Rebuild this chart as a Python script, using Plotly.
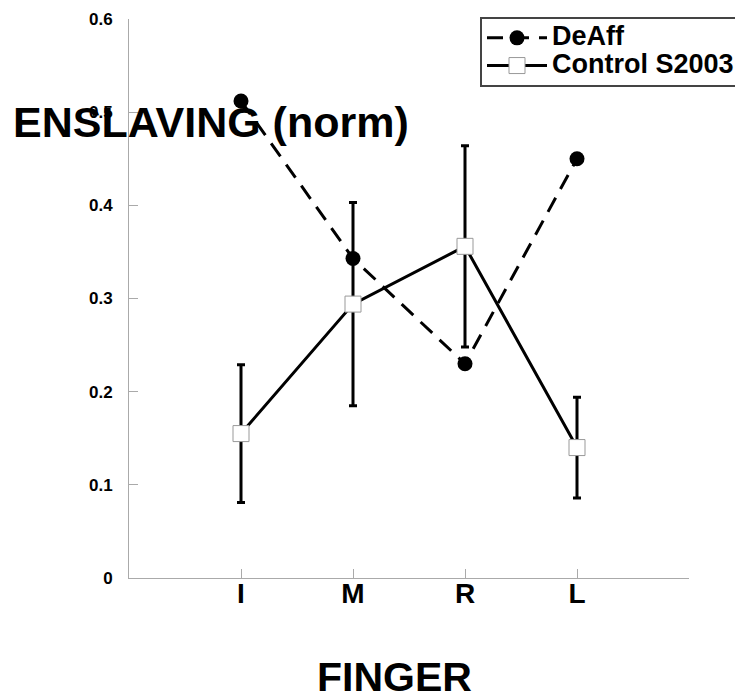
import plotly.graph_objects as go

# ---- data ----
fingers = ["I", "M", "R", "L"]
finger_pos = [1, 2, 3, 4]
deaff = [0.512, 0.343, 0.230, 0.450]
control = [0.155, 0.294, 0.356, 0.140]
control_err = [0.074, 0.109, 0.108, 0.054]
y_ticks = [0, 0.1, 0.2, 0.3, 0.4, 0.5, 0.6]
y_ticklabels = ["0", "0.1", "0.2", "0.3", "0.4", "0.5", "0.6"]

FONT = "Liberation Sans, Arial, Helvetica, sans-serif"

# plot area in figure pixels
L, R, T, B = 121, 62, 11, 128
W, H = 743, 698
PW, PH = W - L - R, H - T - B


def px_x(x):
    return (x - 8 - L) / PW


def px_y(y):
    return (H - B - (y - 8)) / PH


def legend_name(s):
    return '<span style="font-size:27px">' + s + '</span>'


fig = go.Figure()

fig.add_trace(go.Scatter(
    x=finger_pos, y=deaff, name=legend_name("DeAff"),
    mode="lines+markers",
    line=dict(color="black", width=3, dash="16px,10px"),
    marker=dict(symbol="circle", size=15, color="black"),
))

fig.add_trace(go.Scatter(
    x=finger_pos, y=control, name=legend_name("Control S2003"),
    mode="lines+markers",
    line=dict(color="black", width=3),
    marker=dict(symbol="square", size=16, color="white",
                line=dict(color="#999999", width=1)),
    error_y=dict(type="data", array=control_err, visible=True,
                 color="black", thickness=3, width=4),
))

fig.update_layout(
    width=W, height=H,
    margin=dict(l=L, r=R, t=T, b=B, autoexpand=False),
    plot_bgcolor="white", paper_bgcolor="white",
    font=dict(family=FONT, color="black"),
    showlegend=True,
    legend=dict(
        x=px_x(480), y=px_y(17), xanchor="left", yanchor="top",
        bgcolor="white", bordercolor="#444444", borderwidth=2,
        font=dict(size=19, weight="bold", family=FONT),
        itemwidth=60,
    ),
    xaxis=dict(
        range=[0, 5], tickvals=[1, 2, 3, 4, 5], ticktext=fingers + [""],
        showgrid=False, zeroline=False, showline=True,
        linecolor="#aaaaaa", linewidth=1,
        ticks="inside", ticklen=9, tickcolor="#aaaaaa",
        tickfont=dict(size=28, weight="bold", family=FONT),
        ticklabelstandoff=-10,
    ),
    yaxis=dict(
        range=[0, 0.6], tickvals=y_ticks, ticktext=y_ticklabels,
        showgrid=False, zeroline=False, showline=True,
        linecolor="#aaaaaa", linewidth=1,
        ticks="inside", ticklen=9, tickcolor="#aaaaaa",
        tickfont=dict(size=17, weight="bold", family=FONT),
        ticklabelstandoff=12,
    ),
    annotations=[
        dict(text="ENSLAVING (norm)", xref="paper", yref="paper",
             x=px_x(11), y=px_y(122),
             xanchor="left", yanchor="middle", showarrow=False,
             font=dict(size=43, weight="bold", family=FONT, color="black")),
        dict(text="FINGER", xref="paper", yref="paper",
             x=px_x(394.5), y=px_y(676.5),
             xanchor="center", yanchor="middle", showarrow=False,
             font=dict(size=41, weight="bold", family=FONT, color="black")),
    ],
)

fig.write_html("out.html")
